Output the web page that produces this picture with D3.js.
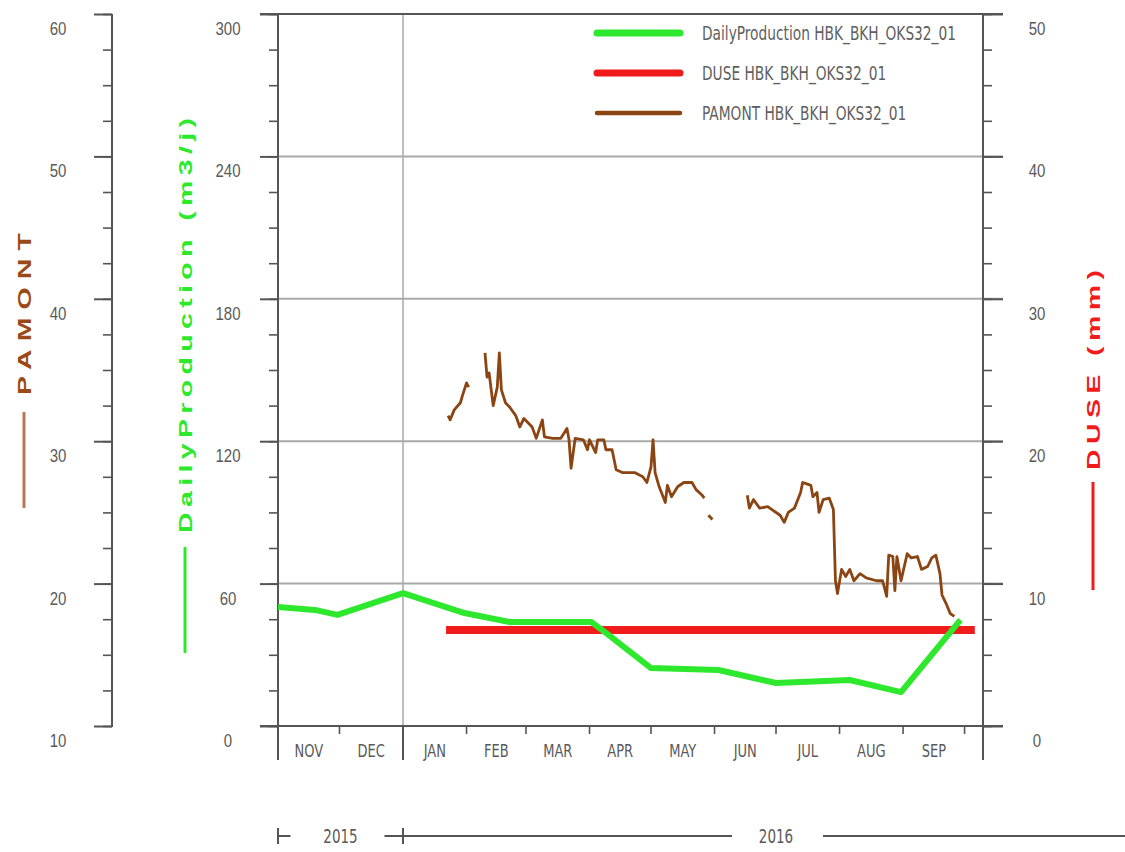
<!DOCTYPE html>
<html>
<head>
<meta charset="utf-8">
<script src="https://cdn.jsdelivr.net/npm/d3@7"></script>
<style>
  body { margin: 0; background: #fff; }
  svg { display: block; font-family: "Liberation Sans Narrow", "Arial Narrow", "DejaVu Sans Condensed", sans-serif; }
  .tick text { fill: #5a5a5a; font-size: 15px; }
</style>
</head>
<body>
<div id="chart"></div>
<script>
// ---- data ----
const monthLabels = ["NOV", "DEC", "JAN", "FEB", "MAR", "APR", "MAY", "JUN", "JUL", "AUG", "SEP"];
const yearLabels = ["2015", "2016"];
const pamontTicks = [10, 20, 30, 40, 50, 60];
const productionTicks = [0, 60, 120, 180, 240, 300];
const duseTicks = [0, 10, 20, 30, 40, 50];
const legendLabels = [
  "DailyProduction HBK_BKH_OKS32_01",
  "DUSE HBK_BKH_OKS32_01",
  "PAMONT HBK_BKH_OKS32_01"
];

// DailyProduction (m3/j)
const dailyProduction = [
  ["2015-11-01", 50.1], ["2015-11-19", 48.9], ["2015-11-30", 46.8],
  ["2016-01-01", 56.0], ["2016-01-31", 47.6], ["2016-02-22", 43.8],
  ["2016-04-02", 43.8], ["2016-04-09", 39.2], ["2016-05-01", 24.4],
  ["2016-06-03", 23.6], ["2016-07-01", 18.1], ["2016-08-06", 19.4],
  ["2016-08-31", 14.3], ["2016-09-29", 44.7]
];

// DUSE (mm)
const duse = [["2016-01-22", 6.75], ["2016-10-06", 6.75]];

// PAMONT (null = gap in record)
const pamont = [
  ["2016-01-23", 31.8], ["2016-01-24", 31.5], ["2016-01-26", 32.2], ["2016-01-29", 32.7],
  ["2016-01-30", 33.2], ["2016-02-01", 34.1], ["2016-02-02", 33.8],
  ["2016-02-06", null],
  ["2016-02-10", 36.2], ["2016-02-11", 34.5], ["2016-02-12", 34.8], ["2016-02-14", 32.5],
  ["2016-02-16", 33.8], ["2016-02-17", 36.2], ["2016-02-18", 33.6], ["2016-02-20", 32.7],
  ["2016-02-22", 32.4], ["2016-02-25", 31.8], ["2016-02-27", 31.0], ["2016-02-29", 31.6],
  ["2016-03-04", 31.0], ["2016-03-06", 30.2], ["2016-03-09", 31.5], ["2016-03-10", 30.3],
  ["2016-03-14", 30.2], ["2016-03-18", 30.2], ["2016-03-21", 30.9], ["2016-03-22", 30.1],
  ["2016-03-23", 28.1], ["2016-03-25", 30.2], ["2016-03-29", 30.1], ["2016-03-31", 29.4],
  ["2016-04-01", 30.1], ["2016-04-04", 29.2], ["2016-04-05", 30.1], ["2016-04-08", 30.1],
  ["2016-04-09", 29.4], ["2016-04-12", 29.4], ["2016-04-14", 28.0], ["2016-04-17", 27.8],
  ["2016-04-23", 27.8], ["2016-04-27", 27.5], ["2016-04-29", 27.1], ["2016-05-01", 28.2],
  ["2016-05-02", 30.1], ["2016-05-03", 27.8], ["2016-05-05", 26.8], ["2016-05-08", 25.7],
  ["2016-05-09", 26.9], ["2016-05-11", 26.1], ["2016-05-14", 26.8], ["2016-05-17", 27.1],
  ["2016-05-21", 27.1], ["2016-05-23", 26.6], ["2016-05-26", 26.2], ["2016-05-27", 26.0],
  ["2016-05-28", null],
  ["2016-05-29", 24.8], ["2016-05-31", 24.5],
  ["2016-06-08", null],
  ["2016-06-17", 26.2], ["2016-06-18", 25.3], ["2016-06-20", 25.9], ["2016-06-23", 25.3],
  ["2016-06-27", 25.4], ["2016-06-29", 25.2], ["2016-07-03", 24.8], ["2016-07-05", 24.3],
  ["2016-07-07", 25.0], ["2016-07-10", 25.3], ["2016-07-13", 26.4], ["2016-07-14", 27.1],
  ["2016-07-16", 27.0], ["2016-07-18", 26.9], ["2016-07-19", 26.1], ["2016-07-21", 26.4],
  ["2016-07-22", 25.0], ["2016-07-24", 25.9], ["2016-07-27", 26.0], ["2016-07-29", 25.2],
  ["2016-07-30", 20.2], ["2016-07-31", 19.3], ["2016-08-02", 21.0], ["2016-08-04", 20.5],
  ["2016-08-06", 21.0], ["2016-08-08", 20.2], ["2016-08-11", 20.7], ["2016-08-14", 20.4],
  ["2016-08-19", 20.2], ["2016-08-22", 20.2], ["2016-08-24", 19.1], ["2016-08-25", 22.0],
  ["2016-08-27", 21.9], ["2016-08-28", 19.5], ["2016-08-29", 21.9], ["2016-08-31", 20.2],
  ["2016-09-03", 22.1], ["2016-09-05", 21.8], ["2016-09-08", 21.9], ["2016-09-10", 21.0],
  ["2016-09-13", 21.2], ["2016-09-15", 21.8], ["2016-09-17", 22.0], ["2016-09-19", 20.7],
  ["2016-09-20", 19.2], ["2016-09-22", 18.6], ["2016-09-24", 17.9], ["2016-09-26", 17.7]
];

// ---- layout ----
const parse = d3.utcParse("%Y-%m-%d");
const W = 1125, H = 852;
const green = "#2ee82e", red = "#f01c1c", brown = "#8b4513";
const textGray = "#5a5a5a";
const stretch = "scale(1,1.25)";   // reference text is tall and narrow

const svg = d3.select("#chart").append("svg")
  .attr("width", W)
  .attr("height", H);

const x = d3.scaleUtc()
  .domain([parse("2015-11-01"), parse("2016-10-10")])
  .range([278, 983]);
const yProd = d3.scaleLinear().domain([0, 300]).range([726, 14]);
const yPam = d3.scaleLinear().domain([10, 60]).range([726, 14]);
const yDuse = d3.scaleLinear().domain([0, 50]).range([726, 14]);

const axisColor = "#555";

// gridlines
svg.append("g")
  .selectAll("line")
  .data(productionTicks.filter(t => t > 0 && t < 300))
  .join("line")
  .attr("x1", 278).attr("x2", 1003)
  .attr("y1", d => yProd(d)).attr("y2", d => yProd(d))
  .attr("stroke", "#a9a9a9")
  .attr("stroke-width", 2);

const jan1 = parse("2016-01-01");
svg.append("line")
  .attr("x1", x(jan1)).attr("x2", x(jan1))
  .attr("y1", 14).attr("y2", 726)
  .attr("stroke", "#a9a9a9")
  .attr("stroke-width", 1.5);

// axes helpers
function styleAxis(g, labelX) {
  g.select(".domain").remove();
  g.selectAll(".tick line").attr("stroke", axisColor).attr("stroke-width", 2);
  g.selectAll(".tick text")
    .attr("x", 0)
    .attr("y", 0)
    .attr("dy", "0.35em")
    .attr("transform", `translate(${labelX},14) ${stretch}`)
    .attr("text-anchor", "middle");
}
function minorAxis(axisFn, scale, lo, hi, size, xPos) {
  svg.append("g")
    .attr("transform", `translate(${xPos},0)`)
    .call(axisFn(scale).tickValues(d3.range(lo, hi + 0.01, (hi - lo) / 20)).tickSize(size).tickFormat(""))
    .call(g => {
      g.select(".domain").remove();
      g.selectAll(".tick line").attr("stroke", axisColor).attr("stroke-width", 1.6);
    });
}

// PAMONT axis (far left)
minorAxis(d3.axisLeft, yPam, 10, 60, 9, 112);
svg.append("g")
  .attr("transform", "translate(112,0)")
  .call(d3.axisLeft(yPam).tickValues(pamontTicks).tickSize(18).tickSizeOuter(0))
  .call(g => styleAxis(g, -54));
svg.append("line")
  .attr("x1", 112).attr("x2", 112).attr("y1", 14).attr("y2", 727)
  .attr("stroke", axisColor).attr("stroke-width", 2);

// DailyProduction axis
minorAxis(d3.axisLeft, yProd, 0, 300, 9, 278);
svg.append("g")
  .attr("transform", "translate(278,0)")
  .call(d3.axisLeft(yProd).tickValues(productionTicks).tickSize(18).tickSizeOuter(0))
  .call(g => styleAxis(g, -50));

// DUSE axis (right)
minorAxis(d3.axisRight, yDuse, 0, 50, 9, 983);
svg.append("g")
  .attr("transform", "translate(983,0)")
  .call(d3.axisRight(yDuse).tickValues(duseTicks).tickSize(20).tickSizeOuter(0))
  .call(g => styleAxis(g, 54));

// frame
[[278, 14, 278, 760], [983, 14, 983, 760], [260, 14, 1003, 14], [260, 726, 1003, 726],
 [x(jan1), 726, x(jan1), 760]].forEach(([x1, y1, x2, y2]) => {
  svg.append("line")
    .attr("x1", x1).attr("y1", y1).attr("x2", x2).attr("y2", y2)
    .attr("stroke", axisColor).attr("stroke-width", 2);
});

// month ticks and labels
const monthStarts = d3.utcMonth.range(parse("2015-11-01"), parse("2016-10-02"));
svg.append("g")
  .selectAll("line")
  .data(monthStarts)
  .join("line")
  .attr("x1", d => x(d)).attr("x2", d => x(d))
  .attr("y1", 726).attr("y2", 734)
  .attr("stroke", axisColor)
  .attr("stroke-width", 1.6);

svg.append("g")
  .selectAll("text")
  .data(monthLabels)
  .join("text")
  .attr("transform", (d, i) =>
    `translate(${(x(monthStarts[i]) + x(d3.utcMonth.offset(monthStarts[i], 1))) / 2},751) ${stretch}`)
  .attr("dy", "0.35em")
  .attr("text-anchor", "middle")
  .attr("fill", textGray)
  .attr("font-size", 14.5)
  .text(d => d);

// year row
const yearY = 836;
const yearCenters = [
  (x(parse("2015-11-01")) + x(jan1)) / 2,
  x(parse("2016-07-01"))
];
const yearRow = svg.append("g").attr("stroke", axisColor).attr("stroke-width", 2);
yearRow.append("line").attr("x1", x(parse("2015-11-01"))).attr("x2", x(parse("2015-11-01")))
  .attr("y1", yearY - 8).attr("y2", yearY + 8);
yearRow.append("line").attr("x1", x(parse("2015-11-01"))).attr("x2", yearCenters[0] - 50)
  .attr("y1", yearY).attr("y2", yearY);
yearRow.append("line").attr("x1", yearCenters[0] + 44).attr("x2", yearCenters[1] - 44)
  .attr("y1", yearY).attr("y2", yearY);
yearRow.append("line").attr("x1", x(jan1)).attr("x2", x(jan1))
  .attr("y1", yearY - 8).attr("y2", yearY + 8);
yearRow.append("line").attr("x1", yearCenters[1] + 47).attr("x2", W)
  .attr("y1", yearY).attr("y2", yearY);
svg.append("g")
  .selectAll("text")
  .data(yearLabels)
  .join("text")
  .attr("transform", (d, i) => `translate(${yearCenters[i]},${yearY}) ${stretch}`)
  .attr("dy", "0.35em")
  .attr("text-anchor", "middle")
  .attr("fill", textGray)
  .attr("font-size", 15)
  .text(d => d);

// data lines
const dateX = d => x(parse(d[0]));
svg.append("path")
  .datum(duse)
  .attr("fill", "none")
  .attr("stroke", red)
  .attr("stroke-width", 8)
  .attr("d", d3.line().x(dateX).y(d => yDuse(d[1])));

svg.append("path")
  .datum(dailyProduction)
  .attr("fill", "none")
  .attr("stroke", green)
  .attr("stroke-width", 6)
  .attr("stroke-linejoin", "round")
  .attr("d", d3.line().x(dateX).y(d => yProd(d[1])));

svg.append("path")
  .datum(pamont)
  .attr("fill", "none")
  .attr("stroke", brown)
  .attr("stroke-width", 2.8)
  .attr("stroke-linejoin", "round")
  .attr("d", d3.line().defined(d => d[1] != null).x(dateX).y(d => yPam(d[1])));

// legend
const legendColors = [green, red, brown];
const legendWidths = [7, 7, 4.5];
const legend = svg.append("g").selectAll("g")
  .data(legendLabels)
  .join("g")
  .attr("transform", (d, i) => `translate(597,${33 + i * 40})`);
legend.append("line")
  .attr("x1", 0).attr("x2", 83)
  .attr("stroke", (d, i) => legendColors[i])
  .attr("stroke-width", (d, i) => legendWidths[i])
  .attr("stroke-linecap", "round");
legend.append("text")
  .attr("transform", `translate(105,0) ${stretch}`)
  .attr("dy", "0.35em")
  .attr("fill", "#5f5f5f")
  .attr("font-size", 15.3)
  .text(d => d);

// axis titles (rotated, with colour key line)
function axisTitle(label, cx, yTop, yBottom, lineTop, lineBottom, color, lineColor) {
  const along = 1.5;
  svg.append("text")
    .attr("transform", `translate(${cx},${yBottom}) rotate(-90) scale(${along},1)`)
    .attr("dy", "0.36em")
    .attr("font-family", "'Liberation Sans', Arial, sans-serif")
    .attr("font-weight", "bold")
    .attr("font-size", 19)
    .attr("fill", color)
    .attr("textLength", (yBottom - yTop) / along)
    .attr("lengthAdjust", "spacing")
    .text(label);
  svg.append("line")
    .attr("x1", cx).attr("x2", cx)
    .attr("y1", lineTop).attr("y2", lineBottom)
    .attr("stroke", lineColor)
    .attr("stroke-width", 3);
}
axisTitle("PAMONT", 24, 233, 395, 412, 508, "#9a4a16", "#b07a52");
axisTitle("DailyProduction (m3/j)", 185, 118, 533, 547, 653, green, green);
axisTitle("DUSE (mm)", 1093, 270, 470, 482, 590, red, red);
</script>
</body>
</html>
